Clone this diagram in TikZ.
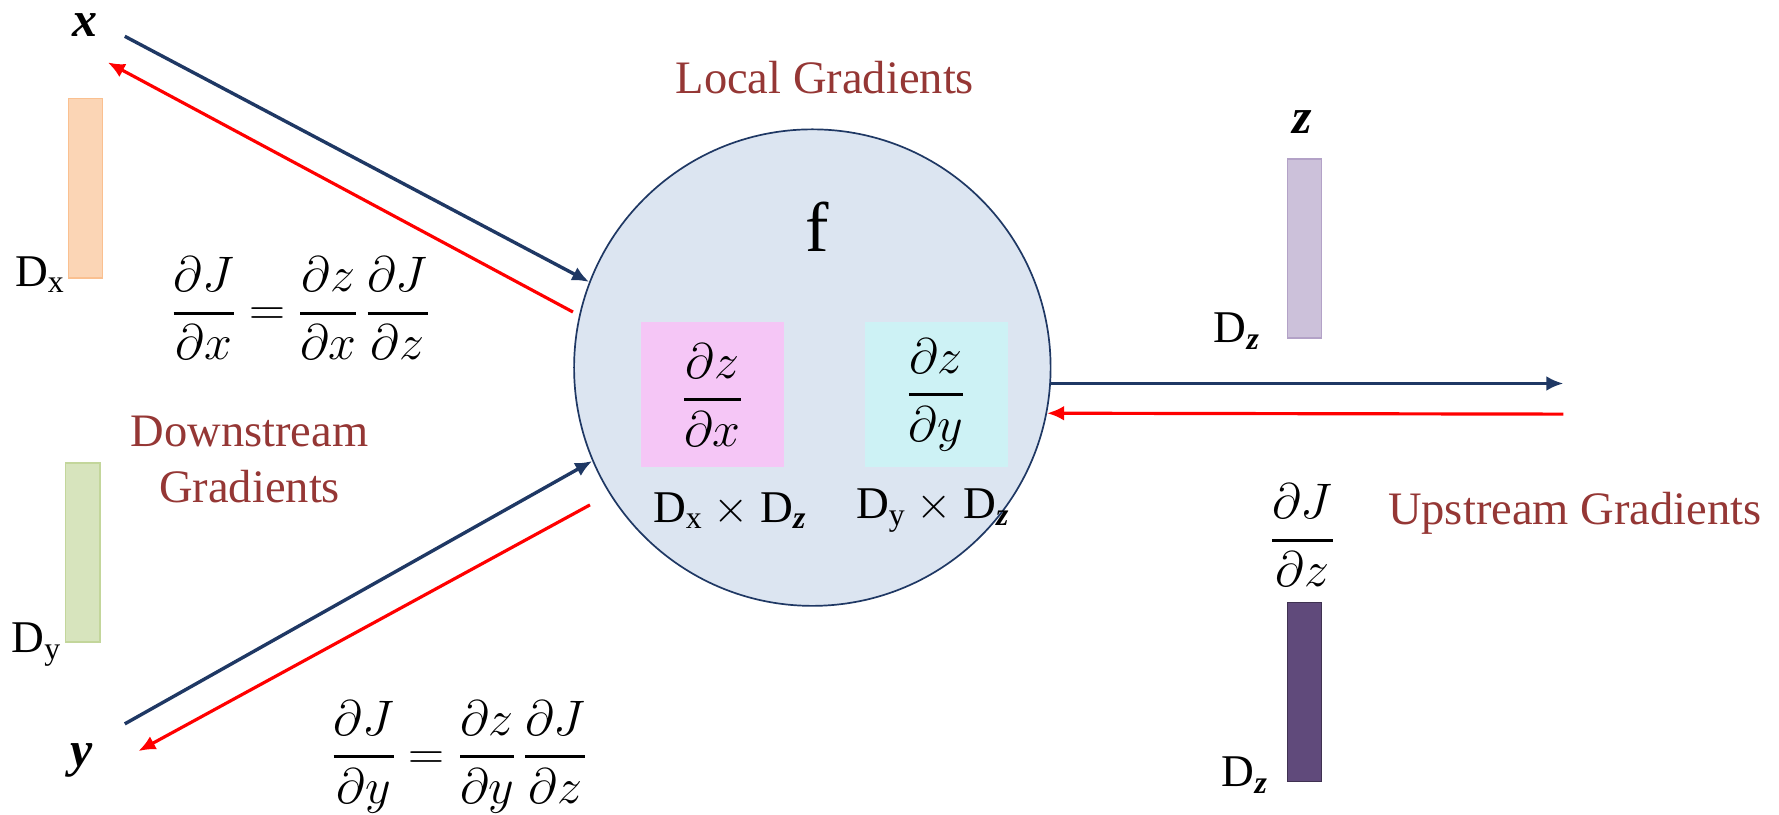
\RequirePackage{fix-cm}
\documentclass[tikz,border=0pt]{standalone}
\usepackage{amsmath}
\usepackage{fontspec}
\setmainfont{Liberation Serif}
\usetikzlibrary{arrows.meta}
\definecolor{navy}{HTML}{1F3864}
\definecolor{brick}{HTML}{953735}
\definecolor{circfill}{HTML}{DCE5F1}
\definecolor{pinkbox}{HTML}{F5C6F6}
\definecolor{cyanbox}{HTML}{CDF2F5}
\definecolor{orfill}{HTML}{FBD5B5}
\definecolor{ordraw}{HTML}{FAC090}
\definecolor{grfill}{HTML}{D7E4BD}
\definecolor{grdraw}{HTML}{C3D69B}
\definecolor{lpfill}{HTML}{CCC1DA}
\definecolor{lpdraw}{HTML}{B3A2C7}
\definecolor{dpfill}{HTML}{604A7B}
\definecolor{dpdraw}{HTML}{3F3151}
\newcommand{\bz}{\text{\bfseries\itshape z}}
\newcommand{\fr}[2]{\genfrac{}{}{2.6pt}{0}{#1}{#2}}
\begin{document}
\begin{tikzpicture}[x=1pt,y=-1pt,
  txt/.style={font=\fontsize{40}{48}\selectfont, inner sep=0pt},
  var/.style={font=\fontsize{44}{52}\selectfont\bfseries\itshape, inner sep=0pt, anchor=base},
  mth/.style={font=\fontsize{44}{52}\selectfont, inner sep=0pt},
  lbl/.style={font=\fontsize{41}{50}\selectfont, text=brick, inner sep=0pt, align=center},
  bar/.style={line width=1.2pt, minimum width=30pt, minimum height=158pt, inner sep=0pt},
  fwd/.style={draw=navy, line width=3pt, -{Latex[length=15pt,width=13pt]}},
  bwd/.style={draw=red, line width=2.8pt, -{Latex[length=15pt,width=13pt]}},
  box/.style={minimum width=126pt, minimum height=128pt, inner sep=0pt, font=\fontsize{44}{52}\selectfont}]
\useasboundingbox (0,0) rectangle (1568,718);
% central node
\node[circle, draw=navy, line width=1.5pt, fill=circfill, minimum size=420pt, inner sep=0pt] (f) at (716,324) {};
\node[txt, font=\fontsize{62}{70}\selectfont] (fl) at (720,200) {f};
\node[box, fill=pinkbox] (px) at (628,348) {$\fr{\partial z}{\partial x}$};
\node[box, fill=cyanbox] (py) at (825,348) {$\fr{\partial z}{\partial y}$};
\node[txt] (dxz) at (643,450) {D$_{\text{x}}$ $\times$ D$_{\bz}$};
\node[txt] (dyz) at (822,450) {D$_{\text{y}}$ $\times$ D$_{\bz}$};
\node[lbl] (local) at (727,68) {Local Gradients};
% inputs
\node[var] (x) at (75,32) {x};
\node[var] (y) at (72,676) {y};
\node[bar, fill=orfill, draw=ordraw] (bx) at (75.5,166) {};
\node[bar, fill=grfill, draw=grdraw] (by) at (73,487) {};
\node[txt] (dx) at (35,242) {D$_{\text{x}}$};
\node[txt] (dy) at (32,568) {D$_{\text{y}}$};
\node[mth] (eqx) at (265,272) {$\fr{\partial J}{\partial x}=\fr{\partial z}{\partial x}\,\fr{\partial J}{\partial z}$};
\node[mth] (eqy) at (405,667) {$\fr{\partial J}{\partial y}=\fr{\partial z}{\partial y}\,\fr{\partial J}{\partial z}$};
\node[lbl] (down) at (220,405) {Downstream\\Gradients};
% output side
\node[var] (z) at (1148,118) {z};
\node[bar, fill=lpfill, draw=lpdraw] (bz) at (1150,219) {};
\node[txt] (dz1) at (1090,292) {D$_{\bz}$};
\node[mth] (djz) at (1148,472) {$\fr{\partial J}{\partial z}$};
\node[bar, fill=dpfill, draw=dpdraw] (bj) at (1150,610) {};
\node[txt] (dz2) at (1097,683) {D$_{\bz}$};
\node[lbl] (up) at (1388,452) {Upstream Gradients};
% connector ends
\coordinate (xs) at (110,32);
\coordinate (xe) at (95,55);
\coordinate (xr) at (505,275);
\coordinate (ys) at (110,638);
\coordinate (ye) at (122,662);
\coordinate (yr) at (520,445);
\coordinate (zo) at (1378,338);
\coordinate (zi) at (1378,365);
\draw[fwd] (xs) -- (f.159.5);
\draw[bwd] (xr) -- (xe);
\draw[fwd] (ys) -- (f.203.2);
\draw[bwd] (yr) -- (ye);
\draw[fwd] (f.east |- zo) -- (zo);
\draw[bwd] (zi) -- (f.-11.3);
\end{tikzpicture}
\end{document}
